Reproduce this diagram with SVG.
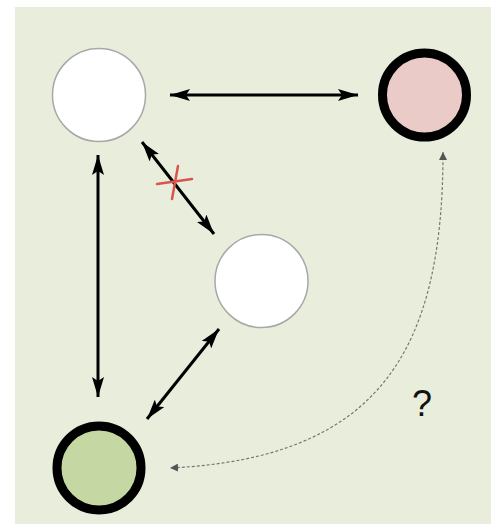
<svg xmlns="http://www.w3.org/2000/svg" width="491" height="524" viewBox="0 0 491 524">
  <defs>
    <marker id="head-big" viewBox="0 0 20 12" refX="20" refY="6" markerWidth="20" markerHeight="12" markerUnits="userSpaceOnUse" orient="auto-start-reverse">
      <path d="M0,0 L20,6 L0,12 L4,6 z" fill="#000"/>
    </marker>
    <marker id="head-small" viewBox="0 0 8 8" refX="8" refY="4" markerWidth="8" markerHeight="8" markerUnits="userSpaceOnUse" orient="auto-start-reverse">
      <path d="M0,0 L8,4 L0,8 z" fill="#555"/>
    </marker>
  </defs>
  <style>
    .plain { fill: #ffffff; stroke: #a8a8a8; stroke-width: 1.5; }
    .bold { stroke: #000; stroke-width: 9; }
    .link { stroke: #000; stroke-width: 3; fill: none; marker-start: url(#head-big); marker-end: url(#head-big); }
    .maybe { stroke: #777; stroke-width: 1.2; stroke-dasharray: 3 2; fill: none; marker-start: url(#head-small); marker-end: url(#head-small); }
    .cross { stroke: #d9544c; stroke-width: 2.5; stroke-linecap: round; }
    .q { font-family: "Liberation Sans", Arial, sans-serif; font-size: 36px; fill: #111; }
  </style>

  <rect x="15" y="7" width="476" height="517" fill="#e9eedc"/>

  <g id="connectors">
    <line class="link" x1="170" y1="95" x2="358" y2="95"/>
    <line class="link" x1="98" y1="155" x2="98" y2="397"/>
    <line class="link" x1="142" y1="142" x2="214" y2="234"/>
    <line class="link" x1="219" y1="329" x2="147" y2="419"/>
    <path class="maybe" d="M443,152 C443,350 380,458 170,468"/>
    <g id="blocked">
      <line class="cross" x1="157" y1="184" x2="192" y2="179"/>
      <line class="cross" x1="178" y1="166" x2="172" y2="199"/>
    </g>
  </g>

  <g id="node-top-left">
    <circle class="plain" cx="99" cy="95" r="46.5"/>
  </g>
  <g id="node-top-right">
    <circle class="bold" cx="424.5" cy="95" r="42" fill="#ebcbc8"/>
  </g>
  <g id="node-middle">
    <circle class="plain" cx="261.5" cy="281" r="46.5"/>
  </g>
  <g id="node-bottom-left">
    <circle class="bold" cx="99" cy="468" r="42" fill="#c5d7a2"/>
  </g>

  <text class="q" x="412" y="416">?</text>
</svg>
